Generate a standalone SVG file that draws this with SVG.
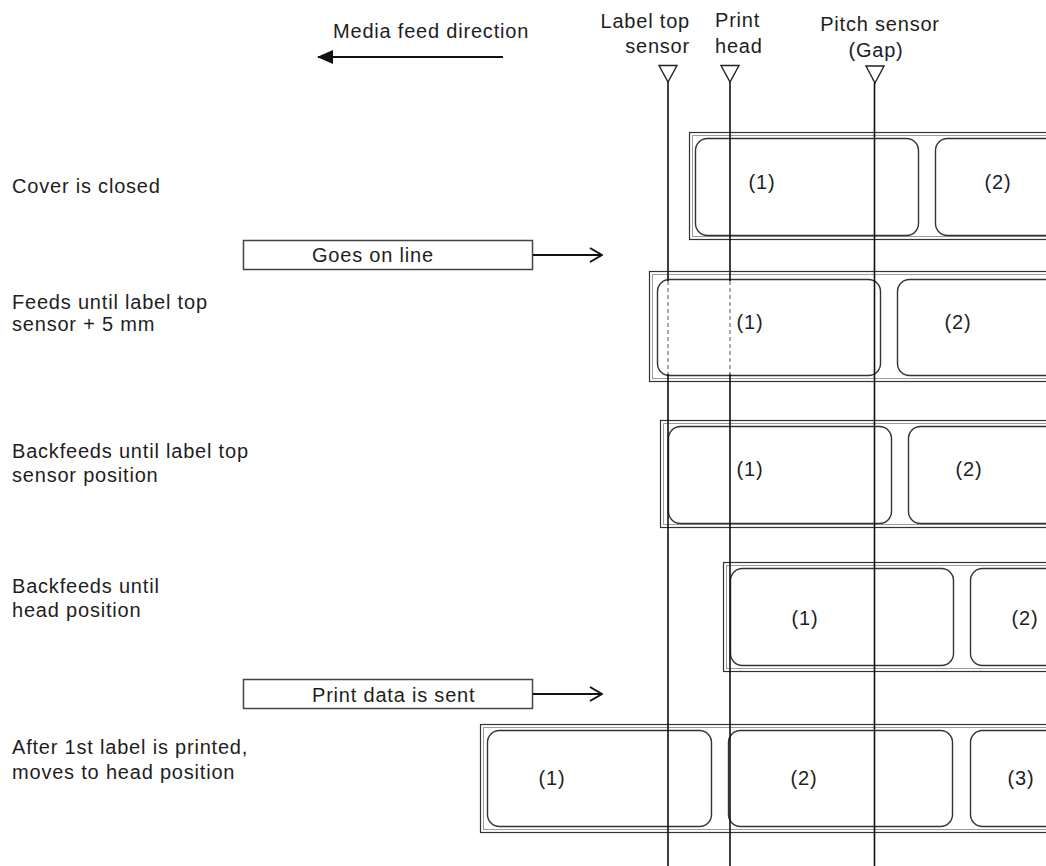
<svg xmlns="http://www.w3.org/2000/svg" width="1046" height="866" viewBox="0 0 1046 866">
<defs>
<style>
text{font-family:"Liberation Sans",Arial,sans-serif;font-size:20px;fill:#1e1e1e;letter-spacing:0.8px}
.tape{fill:#fff;stroke:#333;stroke-width:1.2}
.tape2{fill:none;stroke:#9a9a9a;stroke-width:1}
.lab{fill:#fff;stroke:#333;stroke-width:1.4}
.box{fill:#fff;stroke:#444;stroke-width:1.5}
.vl{stroke:#111;stroke-width:1.6;fill:none}
.dl{stroke:#555;stroke-width:1;stroke-dasharray:4 3;fill:none}
.tri{fill:#fff;stroke:#222;stroke-width:1.4}
.ar{stroke:#111;stroke-width:2;fill:none}
.mid{text-anchor:middle}
</style>
<marker id="open" markerWidth="14" markerHeight="16" refX="13" refY="8" orient="auto" markerUnits="userSpaceOnUse">
<path d="M1,1 L13,8 L1,15" fill="none" stroke="#111" stroke-width="2"/>
</marker>
<marker id="fill" markerWidth="16" markerHeight="14" refX="15" refY="7" orient="auto" markerUnits="userSpaceOnUse">
<path d="M0,0 L16,7 L0,14 z" fill="#111"/>
</marker>
</defs>
<rect width="1046" height="866" fill="#fff"/>

<g id="header">
<text x="333" y="38">Media feed direction</text>
<line class="ar" x1="503" y1="57" x2="318" y2="57" marker-end="url(#fill)"/>
<text x="690" y="28" text-anchor="end">Label top</text>
<text x="690" y="53" text-anchor="end">sensor</text>
<text x="715" y="27">Print</text>
<text x="715" y="53">head</text>
<text x="880" y="31" class="mid">Pitch sensor</text>
<text x="876" y="57" class="mid">(Gap)</text>
</g>

<g id="row1">
<text x="12" y="193">Cover is closed</text>
<rect class="tape" x="689.5" y="132.5" width="380" height="107"/>
<rect class="tape2" x="692.5" y="135.5" width="380" height="101"/>
<rect class="lab" x="695.5" y="138.5" width="223" height="97" rx="12"/>
<rect class="lab" x="935.5" y="138.5" width="223" height="97" rx="12"/>
<text x="762" y="189" class="mid">(1)</text>
<text x="998" y="189" class="mid">(2)</text>
</g>

<g id="goes-on-line">
<rect class="box" x="243.5" y="240.5" width="289" height="29"/>
<text x="312" y="262">Goes on line</text>
</g>

<g id="row2">
<text x="12" y="309">Feeds until label top</text>
<text x="12" y="331">sensor + 5 mm</text>
<rect class="tape" x="649.5" y="271.5" width="420" height="110"/>
<rect class="tape2" x="652.5" y="274.5" width="420" height="104"/>
<rect class="lab" x="657.5" y="279.5" width="223" height="96" rx="12"/>
<rect class="lab" x="897.5" y="279.5" width="223" height="96" rx="12"/>
<text x="750" y="329" class="mid">(1)</text>
<text x="958" y="329" class="mid">(2)</text>
</g>

<g id="row3">
<text x="12" y="458">Backfeeds until label top</text>
<text x="12" y="482">sensor position</text>
<rect class="tape" x="660.5" y="420.5" width="410" height="107"/>
<rect class="tape2" x="663.5" y="423.5" width="410" height="101"/>
<rect class="lab" x="668.5" y="426.5" width="223" height="97" rx="12"/>
<rect class="lab" x="908.5" y="426.5" width="223" height="97" rx="12"/>
<text x="750" y="476" class="mid">(1)</text>
<text x="969" y="476" class="mid">(2)</text>
</g>

<g id="row4">
<text x="12" y="593">Backfeeds until</text>
<text x="12" y="617">head position</text>
<rect class="tape" x="723.5" y="562.5" width="350" height="109"/>
<rect class="tape2" x="726.5" y="565.5" width="350" height="103"/>
<rect class="lab" x="730.5" y="568.5" width="223" height="97" rx="12"/>
<rect class="lab" x="970.5" y="568.5" width="223" height="97" rx="12"/>
<text x="805" y="625" class="mid">(1)</text>
<text x="1025" y="625" class="mid">(2)</text>
</g>

<g id="print-data">
<rect class="box" x="243.5" y="679.5" width="289" height="29"/>
<text x="312" y="702">Print data is sent</text>
</g>

<g id="row5">
<text x="12" y="754">After 1st label is printed,</text>
<text x="12" y="779">moves to head position</text>
<rect class="tape" x="480.5" y="724.5" width="590" height="108"/>
<rect class="tape2" x="483.5" y="727.5" width="590" height="102"/>
<rect class="lab" x="487.5" y="730.5" width="224" height="96" rx="12"/>
<rect class="lab" x="728.5" y="730.5" width="224" height="96" rx="12"/>
<rect class="lab" x="970.5" y="730.5" width="224" height="96" rx="12"/>
<text x="552" y="785" class="mid">(1)</text>
<text x="804" y="785" class="mid">(2)</text>
<text x="1021" y="785" class="mid">(3)</text>
</g>

<g id="sensors">
<polygon class="tri" points="659,65.5 677,65.5 668,82"/>
<polygon class="tri" points="721,65.5 739,65.5 730,82"/>
<polygon class="tri" points="866,66 884,66 875,83"/>
</g>

<g id="connectors">
<line class="ar" x1="533" y1="255" x2="602" y2="255" marker-end="url(#open)"/>
<line class="ar" x1="533" y1="694" x2="602" y2="694" marker-end="url(#open)"/>
<path class="vl" d="M668,82 V281 M668,374 V866"/>
<path class="vl" d="M730,82 V281 M730,374 V866"/>
<path class="vl" d="M874.5,83 V866"/>
<path class="dl" d="M668,281 V374 M730,281 V374"/>
</g>
</svg>
